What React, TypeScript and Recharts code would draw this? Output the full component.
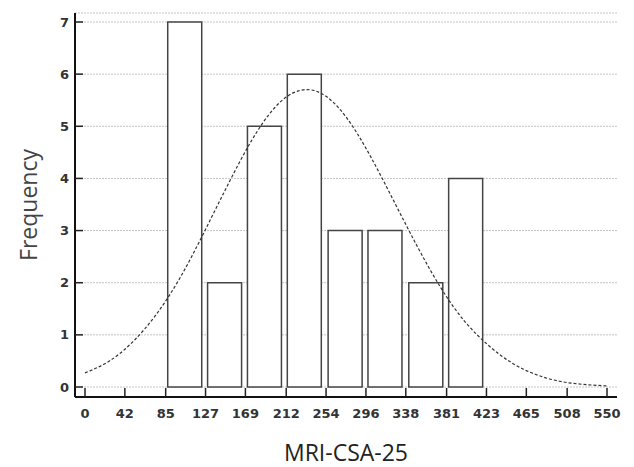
import {
  ComposedChart,
  Bar,
  Line,
  XAxis,
  YAxis,
  CartesianGrid
} from 'recharts'

// histogram bins (midpoints) and counts
const binMids = [105, 147, 189, 231, 274, 316, 359, 401]
const counts  = [7, 2, 5, 6, 3, 3, 2, 4]

// fitted normal curve
const curveX = [0, 25, 50, 75, 100, 125, 150, 175, 200, 225, 250, 275, 300, 325, 350, 375, 400, 425, 450, 475, 500, 525, 550]
const curveY = [0.27, 0.49, 0.86, 1.39, 2.09, 2.95, 3.86, 4.71, 5.36, 5.68, 5.62, 5.18, 4.45, 3.58, 2.7, 1.9, 1.26, 0.8, 0.46, 0.24, 0.11, 0.05, 0.02]

const xTicks = [0, 42, 85, 127, 169, 212, 254, 296, 338, 381, 423, 465, 508, 550]
const yTicks = [0, 1, 2, 3, 4, 5, 6, 7]

const barData   = binMids.map((x, i) => ({ x, count: counts[i] }))
const curveData = curveX.map((x, i) => ({ x, curve: curveY[i] }))

const tickFont = { fontSize: 13, fill: '#333', fontFamily: 'DejaVu Sans', fontWeight: 700 }

function YTitle({ viewBox }: any) {
  const cx = viewBox.x + 28
  const cy = viewBox.y + viewBox.height / 2
  return (
    <text
      x={cx}
      y={cy}
      transform={`rotate(-90, ${cx}, ${cy})`}
      textAnchor="middle"
      dominantBaseline="central"
      fontFamily="Open Sans"
      fontSize={23}
      fill="#444"
    >
      Frequency
    </text>
  )
}

export default function App() {
  return (
    <div>
      <style>{`body{margin:0}`}</style>
      <ComposedChart
        width={634}
        height={467}
        data={barData}
        margin={{ top: 13, right: 17, left: 0, bottom: 0 }}
      >
        <CartesianGrid horizontal vertical={false} stroke="#c4c4c4" strokeDasharray="2 1" />

        <XAxis
          dataKey="x"
          type="number"
          domain={[0, 550]}
          ticks={xTicks}
          interval={0}
          padding={{ left: 10, right: 10 }}
          height={70}
          tick={tickFont}
          tickSize={-9}
          tickMargin={21}
          tickLine={{ stroke: '#222', strokeWidth: 1.5 }}
          axisLine={{ stroke: '#111', strokeWidth: 2 }}
          label={{ value: 'MRI-CSA-25', position: 'insideBottom', offset: 6, fontFamily: 'Open Sans', fontSize: 23, fill: '#222' }}
        />

        {/* separate hidden axis for the curve so its points don't shrink the bar band */}
        <XAxis
          xAxisId="curve"
          dataKey="x"
          type="number"
          domain={[0, 550]}
          padding={{ left: 10, right: 10 }}
          hide
        />

        <YAxis
          type="number"
          domain={[0, 7]}
          ticks={yTicks}
          interval={0}
          width={75}
          padding={{ top: 9, bottom: 10 }}
          tick={tickFont}
          tickSize={-8}
          tickMargin={14}
          tickLine={{ stroke: '#222', strokeWidth: 1.5 }}
          axisLine={{ stroke: '#111', strokeWidth: 2 }}
          label={<YTitle />}
        />

        <Bar
          dataKey="count"
          barSize={34}
          fill="#fff"
          stroke="#444"
          strokeWidth={1.5}
          isAnimationActive={false}
        />

        <Line
          xAxisId="curve"
          data={curveData}
          type="natural"
          dataKey="curve"
          stroke="#333"
          strokeWidth={1.2}
          strokeDasharray="3 2"
          dot={false}
          activeDot={false}
          isAnimationActive={false}
        />
      </ComposedChart>
    </div>
  )
}
